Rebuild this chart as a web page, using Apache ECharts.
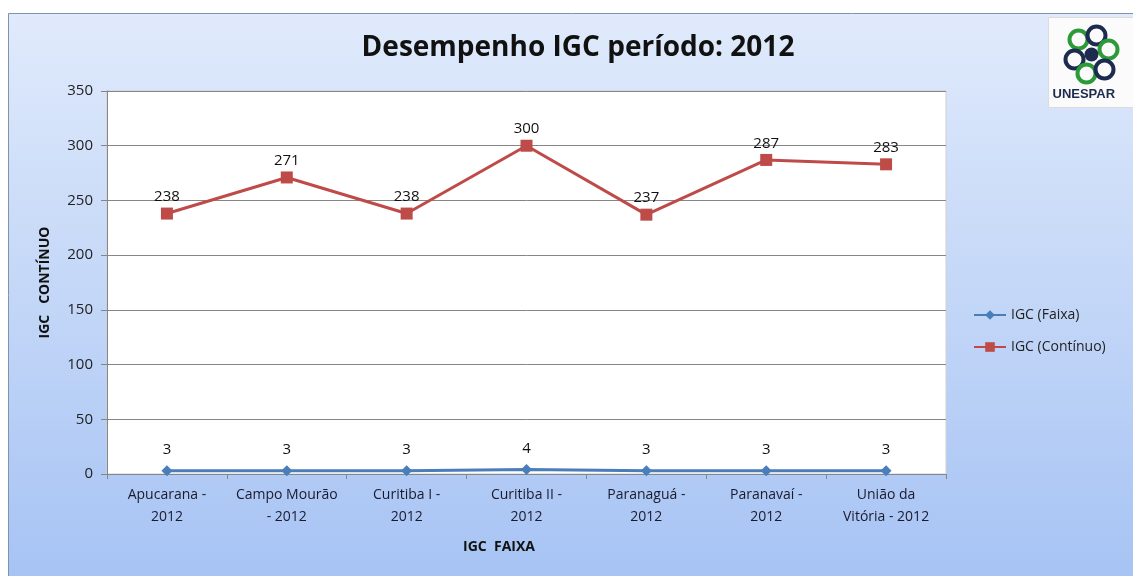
<!DOCTYPE html>
<html>
<head>
<meta charset="utf-8">
<script src="https://cdn.jsdelivr.net/npm/echarts@6/dist/echarts.min.js"></script>
<style>
  html, body { margin: 0; padding: 0; background: #fff; }
  #chart { width: 1133px; height: 576px; }
</style>
</head>
<body>
<div id="chart"></div>
<script>
var campi = [
  'Apucarana -\n2012',
  'Campo Mourão\n- 2012',
  'Curitiba I -\n2012',
  'Curitiba II -\n2012',
  'Paranaguá -\n2012',
  'Paranavaí -\n2012',
  'União da\nVitória - 2012'
]
var igcFaixa = [3, 3, 3, 4, 3, 3, 3]
var igcContinuo = [238, 271, 238, 300, 237, 287, 283]

var font = '"Open Sans", "Noto Sans", sans-serif'

var chart = echarts.init(document.getElementById('chart'))

chart.setOption({
  backgroundColor: '#fff',
  animation: false,
  textStyle: { fontFamily: font },
  title: {
    text: 'Desempenho IGC período: 2012',
    left: 573,
    top: 29,
    textAlign: 'center',
    textStyle: { fontSize: 28, fontWeight: 'bold', color: '#111', fontFamily: font }
  },
  legend: {
    orient: 'vertical',
    left: 968,
    top: 303,
    itemWidth: 32,
    itemHeight: 12,
    itemGap: 18,
    textStyle: { fontSize: 14, color: '#222', fontFamily: font },
    data: ['IGC (Faixa)', 'IGC (Contínuo)']
  },
  grid: {
    left: 107,
    top: 91,
    width: 839,
    height: 383,
    show: true,
    backgroundColor: '#fff',
    borderColor: '#d0d0d0',
    borderWidth: 1
  },
  xAxis: {
    type: 'category',
    data: campi,
    axisLine: { lineStyle: { color: '#868686' } },
    axisTick: { show: true, length: 5, lineStyle: { color: '#868686' } },
    axisLabel: { fontSize: 14, color: '#1a1a2e', lineHeight: 22, margin: 10, fontFamily: font, interval: 0 }
  },
  yAxis: {
    type: 'value',
    min: 0,
    max: 350,
    interval: 50,
    name: 'IGC   CONTÍNUO',
    nameLocation: 'middle',
    nameGap: 55,
    nameTextStyle: { fontSize: 14, fontWeight: 'bold', color: '#111', fontFamily: font },
    axisLine: { show: true, lineStyle: { color: '#868686' } },
    axisTick: { show: true, length: 6, lineStyle: { color: '#868686' } },
    axisLabel: { fontSize: 15, color: '#222', margin: 14, fontFamily: font },
    splitLine: { lineStyle: { color: '#868686' } }
  },
  series: [{
    name: 'IGC (Faixa)',
    type: 'line',
    data: igcFaixa,
    symbol: 'diamond',
    symbolSize: 11,
    itemStyle: { color: '#4a7ebb' },
    lineStyle: { color: '#4a7ebb', width: 3 },
    label: { show: true, position: 'top', distance: 8, fontSize: 15, color: '#111', fontFamily: font }
  }, {
    name: 'IGC (Contínuo)',
    type: 'line',
    data: igcContinuo,
    symbol: 'rect',
    symbolSize: 12,
    itemStyle: { color: '#be4b48' },
    lineStyle: { color: '#be4b48', width: 3 },
    label: { show: true, position: 'top', distance: 3, fontSize: 15, color: '#111', fontFamily: font }
  }],
  graphic: [{
    type: 'rect',
    z: -10,
    shape: { x: 8.5, y: 13.5, width: 1130, height: 570 },
    style: {
      stroke: '#8093ad',
      lineWidth: 1,
      fill: {
        type: 'linear', x: 0, y: 0, x2: 0, y2: 1,
        colorStops: [{ offset: 0, color: '#e0eafb' }, { offset: 1, color: '#a6c3f4' }]
      }
    }
  }, {
    type: 'text',
    left: 463,
    top: 540,
    style: { text: 'IGC  FAIXA', fontSize: 14, fontWeight: 'bold', fill: '#111', fontFamily: font }
  }, {
    type: 'group',
    left: 1048,
    top: 17,
    children: [{
      type: 'rect',
      shape: { x: 0, y: 0, width: 90, height: 90 },
      style: { fill: '#fbfbfb', stroke: '#dcdcdc' }
    }, {
      type: 'circle', shape: { cx: 30, cy: 22, r: 9 }, style: { fill: 'none', stroke: '#2d9a3a', lineWidth: 4 }
    }, {
      type: 'circle', shape: { cx: 48, cy: 18, r: 9 }, style: { fill: 'none', stroke: '#1d2b4f', lineWidth: 4 }
    }, {
      type: 'circle', shape: { cx: 60, cy: 32, r: 9 }, style: { fill: 'none', stroke: '#2d9a3a', lineWidth: 4 }
    }, {
      type: 'circle', shape: { cx: 26, cy: 42, r: 9 }, style: { fill: 'none', stroke: '#1d2b4f', lineWidth: 4 }
    }, {
      type: 'circle', shape: { cx: 38, cy: 56, r: 9 }, style: { fill: 'none', stroke: '#2d9a3a', lineWidth: 4 }
    }, {
      type: 'circle', shape: { cx: 56, cy: 52, r: 9 }, style: { fill: 'none', stroke: '#1d2b4f', lineWidth: 4 }
    }, {
      type: 'circle', shape: { cx: 43, cy: 37, r: 7 }, style: { fill: '#1d2b4f' }
    }, {
      type: 'text', x: 4, y: 70,
      style: { text: 'UNESPAR', fontSize: 13, fontWeight: 'bold', fill: '#1d2b4f', fontFamily: 'Liberation Sans' }
    }]
  }]
})
</script>
</body>
</html>
